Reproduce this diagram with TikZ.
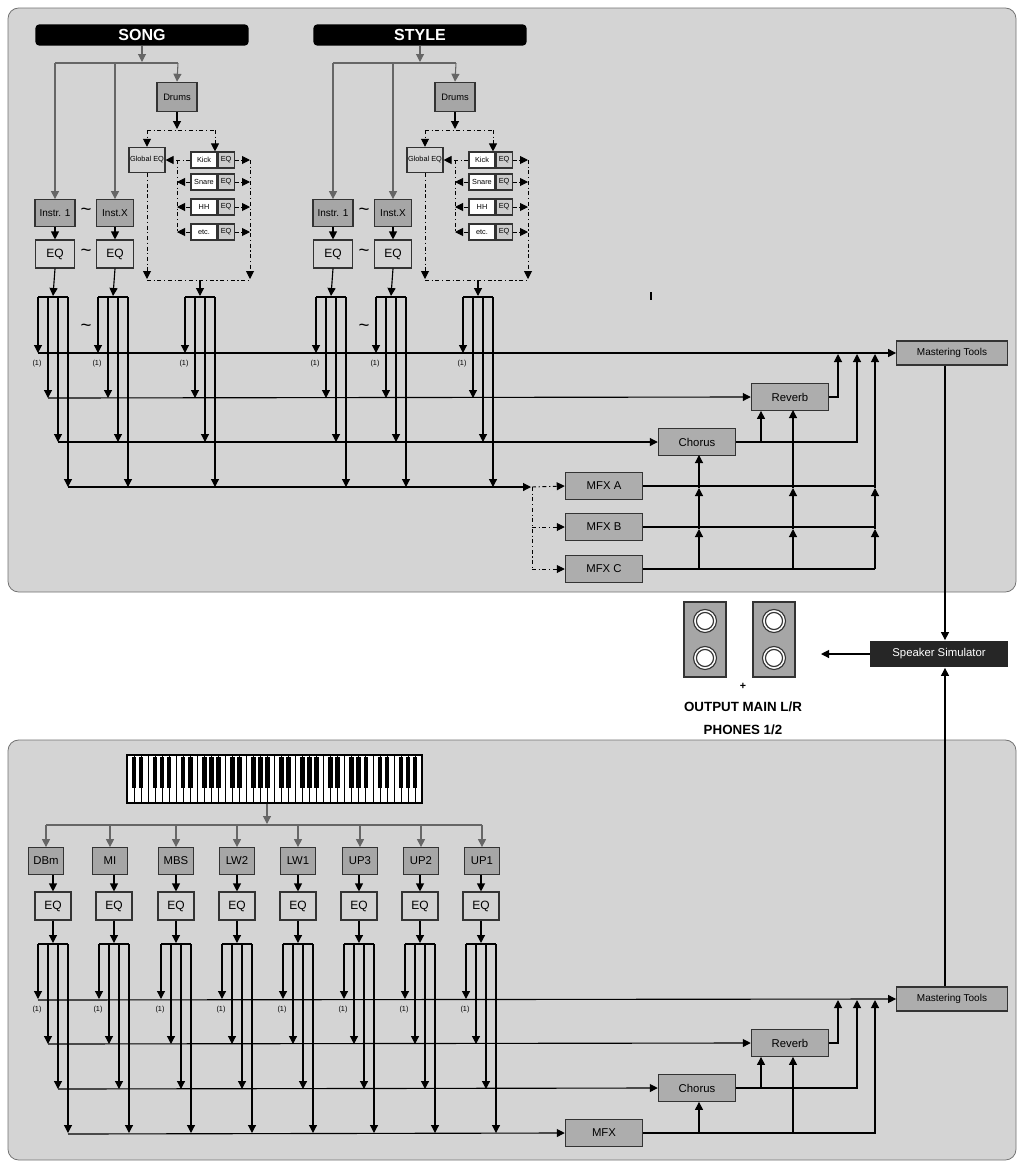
\documentclass[tikz,border=0pt]{standalone}
\usepackage{fontspec}
\setmainfont{Liberation Sans}
\usetikzlibrary{arrows.meta}
\tikzset{
  x=0.75pt,y=-0.75pt,
  every node/.style={font=\fontsize{7.5}{8}\selectfont},
  ar/.style={-{Triangle[length=6pt,width=6pt]}},
  garr/.style={draw=gray!80!black,-{Triangle[length=6pt,width=6pt]},line width=0.8pt},
  dd/.style={dash dot,line width=0.7pt},
  inbox/.style={draw=black!80,fill=black!35,minimum height=20pt,inner sep=1pt},
  eqbox/.style={draw=black!80,fill=black!17,minimum height=21pt,minimum width=29pt,inner sep=1pt,font=\fontsize{9}{10}\selectfont},
  fx/.style={draw=black!80,fill=black!32,minimum width=58pt,minimum height=20pt,inner sep=1pt,font=\fontsize{8.5}{9}\selectfont},
  banner/.style={fill=black,rounded corners=3pt,text=white,minimum width=160pt,minimum height=16pt,font=\bfseries\fontsize{12}{12}\selectfont},
  panel/.style={draw=black!55,fill=black!17,rounded corners=8pt,line width=0.6pt},
  small/.style={font=\fontsize{5.5}{6}\selectfont,inner sep=0.5pt},
  tl/.style={font=\fontsize{14}{14}\selectfont}
}
\begin{document}
\begin{tikzpicture}[line width=0.85pt]
\useasboundingbox (0,0) rectangle (1024,1172);
\fill[white] (0,0) rectangle (1024,1172);
\draw[panel] (8,8) rectangle (1016,592);
\draw[panel] (8,740) rectangle (1016,1160);

% ---------- TOP: two groups ----------
\foreach \o/\nm/\g in {0/SONG/a,278/STYLE/b}{
  \node[banner] (ban\g) at (142+\o,35) {\nm};
  \draw[garr] (ban\g.south) -- (142+\o,62);
  \draw[draw=gray!80!black,line width=0.8pt] (55+\o,63) -- (178+\o,63);
  \node[inbox,minimum width=30pt] (ia\g) at (55+\o,213) {Instr. 1};
  \node[inbox,minimum width=28pt] (ix\g) at (115+\o,213) {Inst.X};
  \node[inbox,minimum width=30pt,minimum height=22pt,font=\fontsize{7}{7}\selectfont] (dr\g) at (177+\o,97) {Drums};
  \draw[garr] (55+\o,63) -- (ia\g.north);
  \draw[garr] (115+\o,63) -- (ix\g.north);
  \draw[garr] (178+\o,63) -- (dr\g.north);
  \node[tl] at (86+\o,212) {\char"7E};
  \node[eqbox] (ea\g) at (55+\o,254) {EQ};
  \node[eqbox,minimum width=28pt] (ex\g) at (115+\o,254) {EQ};
  \node[tl] at (86+\o,253) {\char"7E};
  \node[tl] at (86+\o,328) {\char"7E};
  \draw[ar] (ia\g) -- (ea\g);
  \draw[ar] (ix\g) -- (ex\g);
  % drum section
  \node[draw=black!80,fill=black!17,minimum width=27pt,minimum height=19pt,inner sep=0pt,font=\fontsize{5.5}{6}\selectfont] (ge\g) at (147+\o,160) {Global EQ};
  \draw[ar] (dr\g.south) -- (177+\o,129);
  \draw[dd] (147+\o,130) -- (215+\o,130);
  \draw[dd,ar] (147+\o,130) -- (ge\g.north);
  \foreach \y/\lab/\k in {160/Kick/1,182/Snare/2,207/HH/3,232/etc./4}{
    \node[draw=black!80,fill=white,minimum width=19.5pt,minimum height=12pt,inner sep=0pt,font=\fontsize{5.5}{6}\selectfont] (dn\g\k) at (204+\o,\y) {\lab};
    \node[draw=black!80,fill=black!20,minimum width=12pt,minimum height=12pt,inner sep=0pt,font=\fontsize{5.5}{6}\selectfont,anchor=west] (de\g\k) at (dn\g\k.east) {EQ};
    \draw[dd,ar] (de\g\k.east) -- (250+\o,\y);
  }
  \draw[dd,ar] (215+\o,130) -- (dn\g1.north -| 215+\o,0);
  \draw[dd,ar] (dn\g1.west) -- (ge\g.east);
  \draw[dd] (177+\o,160) -- (177+\o,232);
  \foreach \k in {2,3,4}{ \draw[dd,ar] (dn\g\k.west) -- (177+\o,{\k==2?182:(\k==3?207:232)}); }
  \draw[dd,ar] (250+\o,160) -- (250+\o,279);
  \draw[dd,ar] (ge\g.south) -- (147+\o,279);
  \draw[dd] (147+\o,280) -- (250+\o,280);
  \coordinate (dq\g) at (200+\o,280);
  \draw[ar] (ea\g.south) -- (53+\o,296);
  \draw[ar] (ex\g.south) -- (113+\o,296);
  \draw[ar] (dq\g) -- (200+\o,296);
  \foreach \c in {53,113,200}{
    \draw (\c+\o-15,297) -- (\c+\o+15,297);
    \draw[ar] (\c+\o-15,297) -- (\c+\o-15,353);
    \draw[ar] (\c+\o-5,297) -- (\c+\o-5,398);
    \draw[ar] (\c+\o+5,297) -- (\c+\o+5,442);
    \draw[ar] (\c+\o+15,297) -- (\c+\o+15,487);
    \node[small] at (\c+\o-16,364) {(1)};
  }
}
\draw (651,292) -- (651,300);

% top effects
\node[fx,minimum width=83pt,minimum height=18pt,font=\fontsize{7.5}{8}\selectfont] (mt1) at (952,353) {Mastering Tools};
\node[fx] (rv1) at (790,397) {Reverb};
\node[fx] (ch1) at (697,442) {Chorus};
\node[fx] (ma) at (604,486) {MFX A};
\node[fx] (mb) at (604,527) {MFX B};
\node[fx] (mc) at (604,569) {MFX C};
\draw[ar] (38,353) -- (mt1.west);
\draw[ar] (48,398) -- (rv1.west);
\draw[ar] (58,442) -- (ch1.west);
\draw[ar] (68,487) -- (531,487);
\coordinate (br) at (532,487);
\draw[dd,ar] (br) -- (ma.west);
\draw[dd] (br) -- (532,569);
\draw[dd,ar] (532,527) -- (mb.west);
\draw[dd,ar] (532,569) -- (mc.west);
\draw[ar] (rv1.east) -| (838,354);
\draw[ar] (ch1.east) -| (857,354);
\draw[ar] (761,442) -- (rv1.south -| 761,0);
\draw (ma.east) -- (875,486);
\draw (mb.east) -- (875,527);
\draw (mc.east) -- (875,569);
\foreach \xx/\top in {699/455,793/410,875/354}{
  \draw[ar] (\xx,569) -- (\xx,529);
  \draw[ar] (\xx,529) -- (\xx,488);
  \draw[ar] (\xx,488) -- (\xx,\top);
}

% speaker simulator & outputs
\node[fill=black!85,text=white,minimum width=103pt,minimum height=20pt,font=\fontsize{8.5}{9}\selectfont] (ss) at (939,654) {Speaker Simulator};
\draw[ar] (mt1.south -| 945,0) -- (ss.north -| 945,0);
\coordinate (spk) at (821,654);
\draw[ar] (ss.west) -- (spk);
\foreach \sx in {705,774}{
  \draw[fill=black!35,draw=black!80] (\sx-21,602) rectangle (\sx+21,677);
  \foreach \sy in {621,658}{
    \draw[fill=white,draw=black!80] (\sx,\sy) circle (11.5);
    \draw[fill=black!35,draw=white,line width=0.5pt] (\sx,\sy) circle (9.5);
    \draw[fill=white,draw=black!80] (\sx,\sy) circle (8.5);
  }
}
\node[font=\bfseries\fontsize{8}{8}\selectfont] at (743,686) {+};
\node[font=\bfseries\fontsize{10}{10}\selectfont] (out) at (743,707) {OUTPUT MAIN L/R};
\node[font=\bfseries\fontsize{10}{10}\selectfont] at (743,730) {PHONES 1/2};

% ---------- BOTTOM ----------
% keyboard
\draw[fill=white,line width=0.8pt] (127,755) rectangle (422,803);
\foreach \i in {1,...,41}{ \draw[line width=0.5pt] ({127+\i*295/42},755) -- ({127+\i*295/42},803); }
\foreach \i in {0,...,5}{
  \foreach \b in {1,2,4,5,6}{
    \fill ({127+(\i*7+\b)*295/42-2.3},757) rectangle ({127+(\i*7+\b)*295/42+2.3},788);
  }
}
\node[inner sep=0,minimum width=0,minimum height=0] (kb) at (267,803) {};
\draw[garr] (kb) -- (267,824);
\draw[draw=gray!80!black,line width=0.8pt] (46,825) -- (482,825);
\foreach \c/\lab/\k in {46/DBm/1,110/MI/2,176/MBS/3,237/LW2/4,298/LW1/5,360/UP3/6,421/UP2/7,482/UP1/8}{
  \node[inbox,minimum width=26pt,font=\fontsize{8.5}{9}\selectfont] (p\k) at (\c,861) {\lab};
  \draw[garr] (\c,825) -- (p\k.north);
}
\foreach \c/\k in {53/1,114/2,176/3,237/4,298/5,359/6,420/7,481/8}{
  \node[eqbox,minimum width=27pt] (q\k) at (\c,906) {EQ};
  \draw[ar] (p\k.south -| \c,0) -- (q\k.north);
  \draw[ar] (q\k.south) -- (\c,943);
  \draw (\c-15,944) -- (\c+15,944);
  \draw[ar] (\c-15,944) -- (\c-15,999);
  \draw[ar] (\c-5,944) -- (\c-5,1044);
  \draw[ar] (\c+5,944) -- (\c+5,1089);
  \draw[ar] (\c+15,944) -- (\c+15,1133);
  \node[small] at (\c-16,1010) {(1)};
}
\node[fx,minimum width=83pt,minimum height=18pt,font=\fontsize{7.5}{8}\selectfont] (mt2) at (952,999) {Mastering Tools};
\node[fx] (rv2) at (790,1043) {Reverb};
\node[fx] (ch2) at (697,1088) {Chorus};
\node[fx] (mx) at (604,1133) {MFX};
\draw[ar] (38,1000) -- (mt2.west);
\draw[ar] (48,1044) -- (rv2.west);
\draw[ar] (58,1089) -- (ch2.west);
\draw[ar] (68,1134) -- (mx.west);
\draw[ar] (rv2.east) -| (838,1000);
\draw[ar] (ch2.east) -| (857,1000);
\draw[ar] (761,1088) -- (rv2.south -| 761,0);
\draw[ar] (mx.east) -| (875,1000);
\draw[ar] (699,1133) -- (ch2.south -| 699,0);
\draw[ar] (793,1133) -- (rv2.south -| 793,0);
\draw[ar] (mt2.north -| 945,0) -- (ss.south -| 945,0);
\end{tikzpicture}
\end{document}
